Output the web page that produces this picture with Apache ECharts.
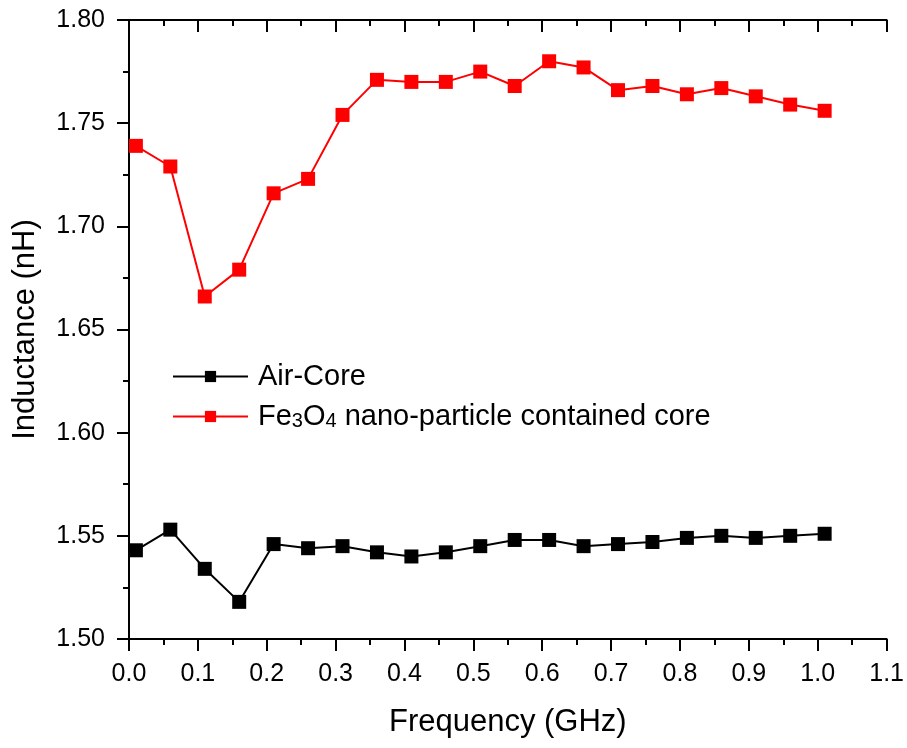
<!DOCTYPE html>
<html>
<head>
<meta charset="utf-8">
<script src="https://cdn.jsdelivr.net/npm/echarts@6/dist/echarts.min.js"></script>
<style>html,body{margin:0;padding:0;background:#fff}#c{width:907px;height:748px}</style>
</head>
<body>
<div id="c"></div>
<script>
const freq = [0.01,0.06,0.11,0.16,0.21,0.26,0.31,0.36,0.41,0.46,0.51,0.56,0.61,0.66,0.71,0.76,0.81,0.86,0.91,0.96,1.01];
const airCore = [1.543,1.553,1.534,1.518,1.546,1.544,1.545,1.542,1.540,1.542,1.545,1.548,1.548,1.545,1.546,1.547,1.549,1.550,1.549,1.550,1.551];
const fe3o4 = [1.739,1.729,1.666,1.679,1.716,1.723,1.754,1.771,1.770,1.770,1.775,1.768,1.780,1.777,1.766,1.768,1.764,1.767,1.763,1.759,1.756];
const seriesNames = ['Air-Core', 'Fe3O4 nano-particle contained core'];
const xTitle = 'Frequency (GHz)';
const yTitle = 'Inductance (nH)';

const FONT = '"Liberation Sans", Arial, sans-serif';
const chart = echarts.init(document.getElementById('c'), null, {renderer: 'canvas'});

const axisLine = {show: true, lineStyle: {color: '#000', width: 2}};
const tickStyle = {color: '#000', width: 2};

function pairs(xs, ys) { return xs.map((x, i) => [x, ys[i]]); }

chart.setOption({
  animation: false,
  backgroundColor: '#fff',
  grid: {left: 129, right: 20, top: 20, bottom: 109, containLabel: false},
  legend: {
    orient: 'vertical',
    left: 172,
    top: 362,
    padding: 0,
    itemWidth: 75,
    itemHeight: 14,
    itemGap: 11,
    data: seriesNames,
    lineStyle: {width: 2},
    formatter: function (name) {
      if (name === seriesNames[1]) return 'Fe{s|3}O{s|4} nano-particle contained core';
      return name;
    },
    textStyle: {
      fontFamily: FONT, fontSize: 29, color: '#000', padding: [0, 0, 0, 5],
      rich: {
        s: {fontFamily: FONT, fontSize: 20, color: '#000', verticalAlign: 'bottom', lineHeight: 20}
      }
    }
  },
  xAxis: [
    {
      type: 'value', position: 'bottom', min: 0, max: 1.1, interval: 0.1,
      name: xTitle, nameLocation: 'middle', nameGap: 68,
      nameTextStyle: {fontFamily: FONT, fontSize: 31, color: '#000'},
      axisLine: axisLine,
      axisTick: {show: true, inside: false, length: 12, lineStyle: tickStyle},
      minorTick: {show: true, splitNumber: 2, length: 6, lineStyle: tickStyle},
      axisLabel: {fontFamily: FONT, fontSize: 25, color: '#000', margin: 23,
        formatter: v => v.toFixed(1)},
      splitLine: {show: false}
    },
    {
      type: 'value', position: 'top', min: 0, max: 1.1, interval: 0.1,
      axisLine: axisLine,
      axisTick: {show: true, inside: true, length: 12, lineStyle: tickStyle},
      minorTick: {show: true, splitNumber: 2, length: 6, lineStyle: tickStyle},
      axisLabel: {show: false},
      splitLine: {show: false}
    }
  ],
  yAxis: [
    {
      type: 'value', position: 'left', min: 1.5, max: 1.8, interval: 0.05,
      name: yTitle, nameLocation: 'middle', nameGap: 88, nameRotate: 90,
      nameTextStyle: {fontFamily: FONT, fontSize: 31, color: '#000'},
      axisLine: axisLine,
      axisTick: {show: true, inside: false, length: 12, lineStyle: tickStyle},
      minorTick: {show: true, splitNumber: 2, length: 6, lineStyle: tickStyle},
      axisLabel: {fontFamily: FONT, fontSize: 25, color: '#000', margin: 24,
        formatter: v => v.toFixed(2)},
      splitLine: {show: false}
    },
    {
      type: 'value', position: 'right', min: 1.5, max: 1.8, interval: 0.05,
      axisLine: axisLine,
      axisTick: {show: true, inside: true, length: 12, lineStyle: tickStyle},
      minorTick: {show: true, splitNumber: 2, length: 6, lineStyle: tickStyle},
      axisLabel: {show: false},
      splitLine: {show: false}
    }
  ],
  series: [
    {
      name: seriesNames[0], type: 'line', xAxisIndex: 0, yAxisIndex: 0,
      data: pairs(freq, airCore),
      symbol: 'rect', symbolSize: 14,
      itemStyle: {color: '#000'},
      lineStyle: {color: '#000', width: 2}
    },
    {
      name: seriesNames[1], type: 'line', xAxisIndex: 0, yAxisIndex: 0,
      data: pairs(freq, fe3o4),
      symbol: 'rect', symbolSize: 14,
      itemStyle: {color: '#ff0000'},
      lineStyle: {color: '#ff0000', width: 2}
    }
  ]
});
</script>
</body>
</html>
